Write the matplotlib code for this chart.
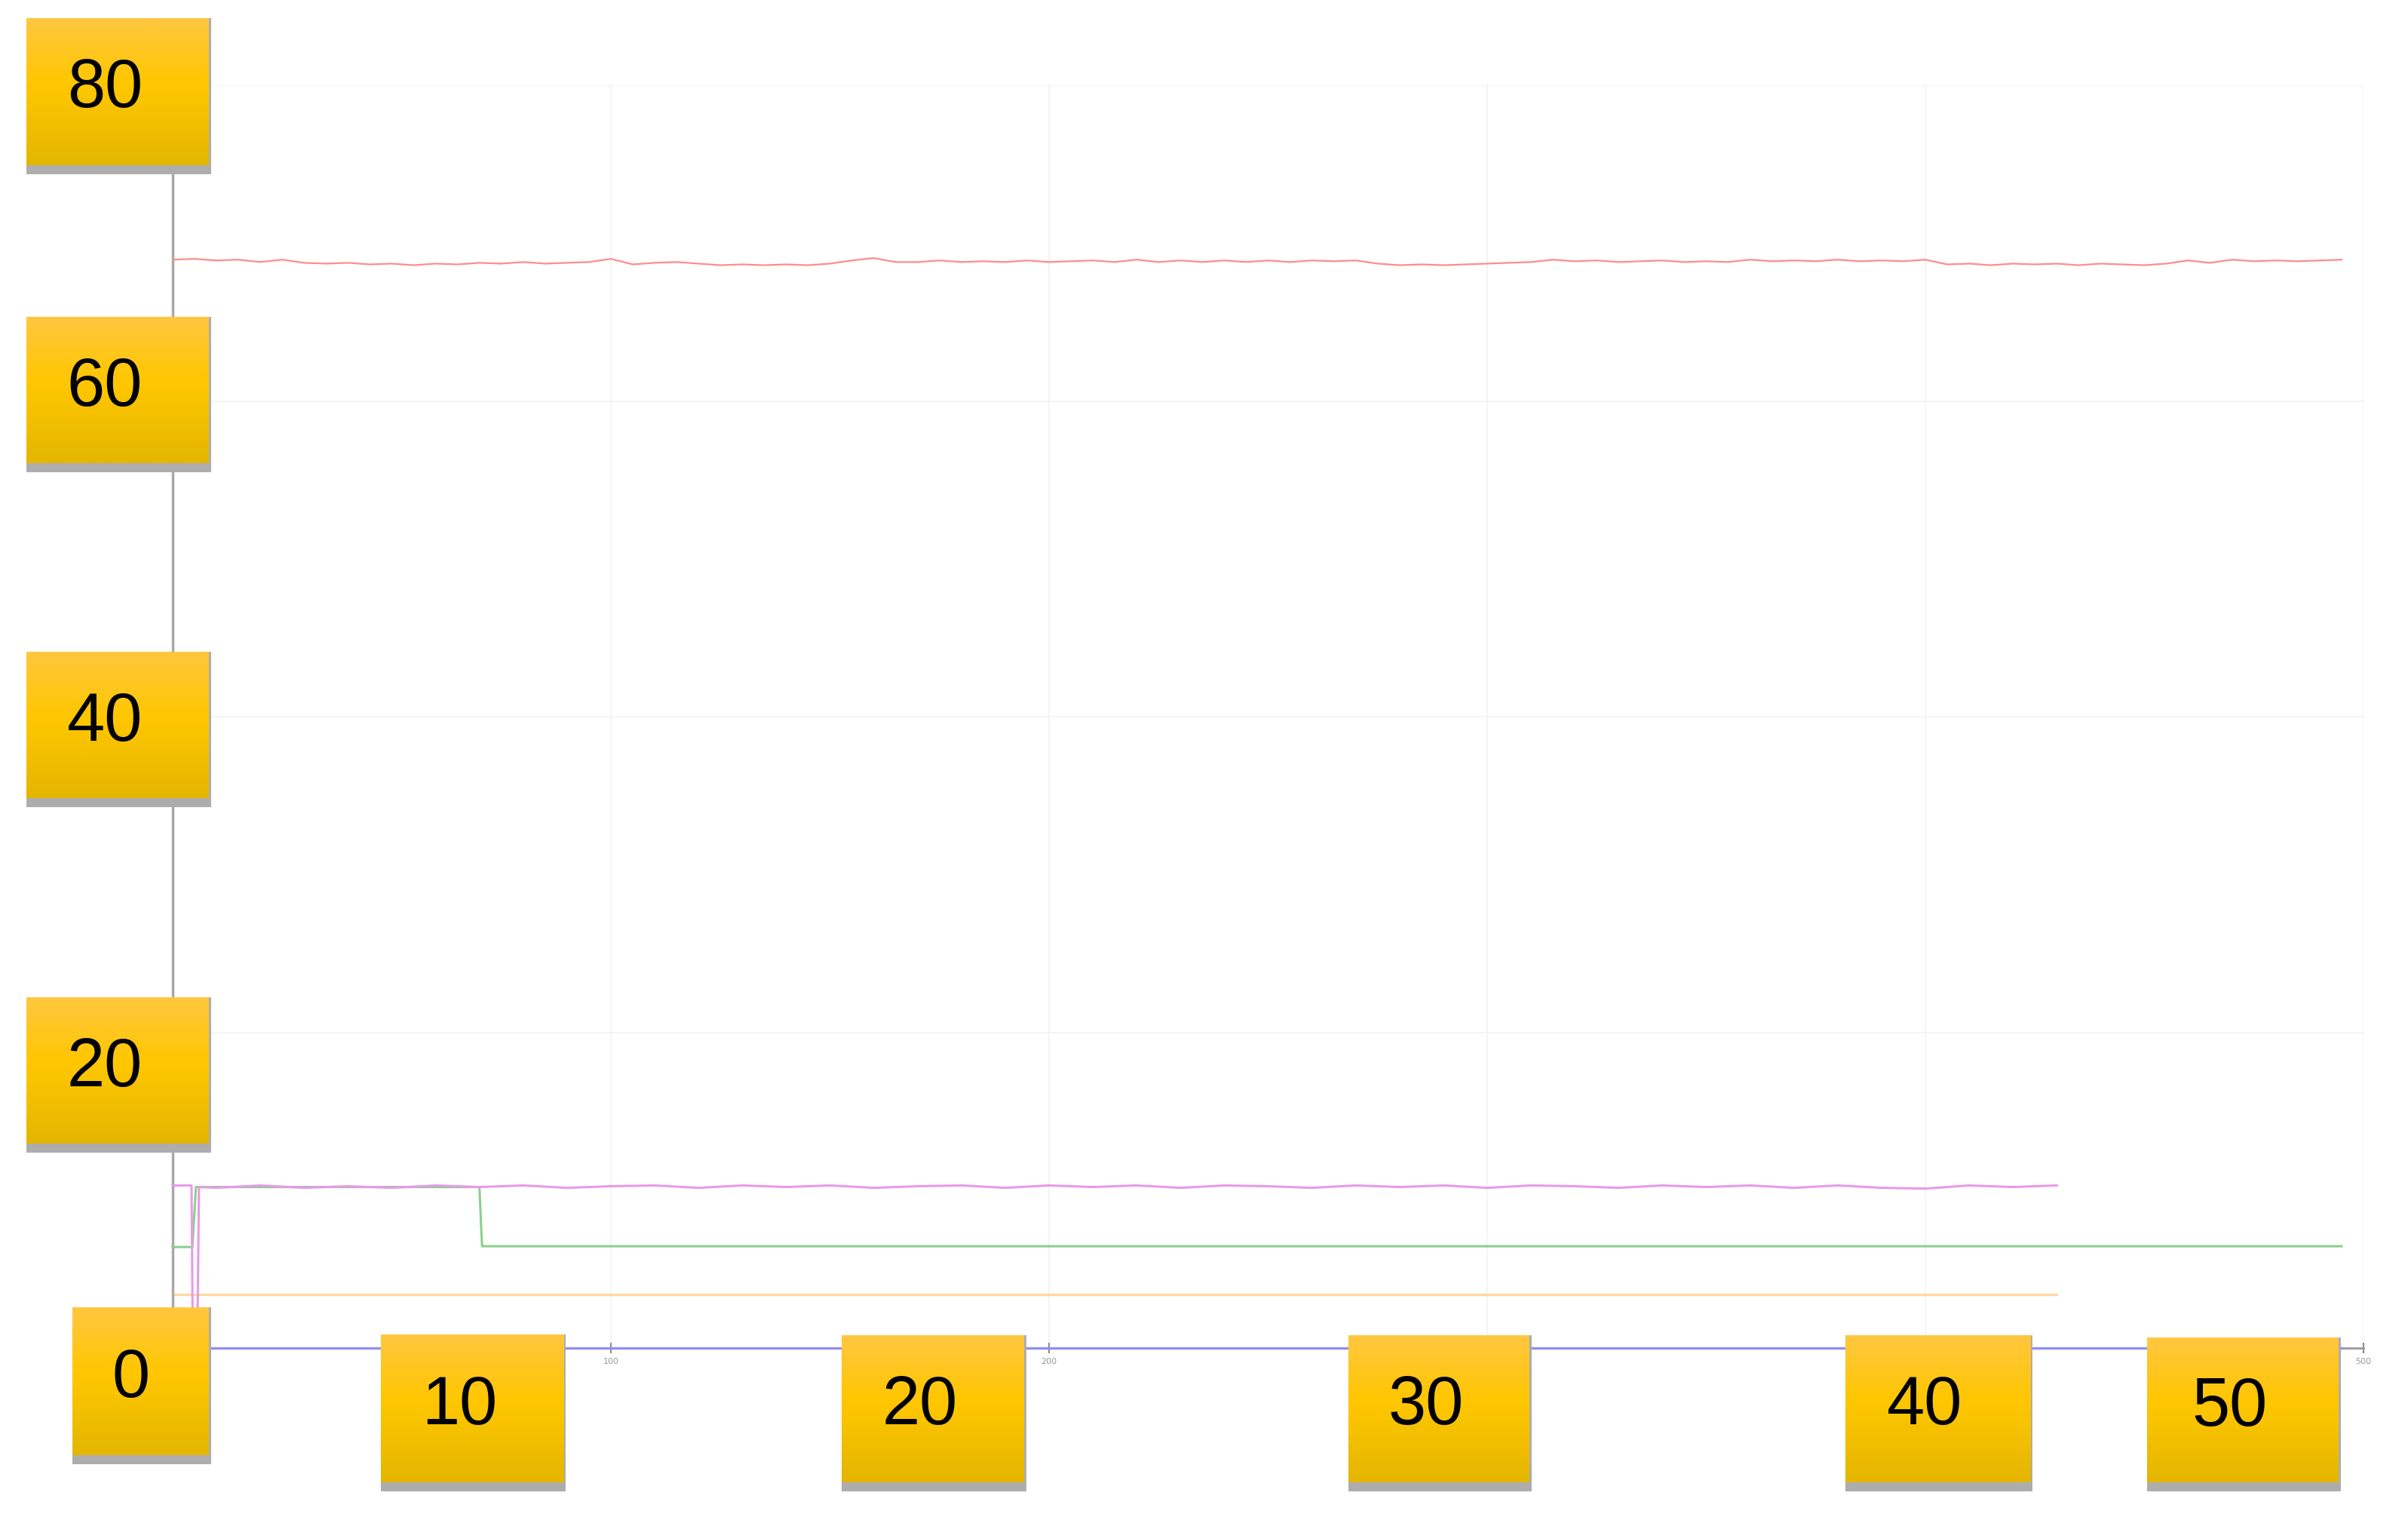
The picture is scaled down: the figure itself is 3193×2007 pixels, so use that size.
import numpy as np
import matplotlib
matplotlib.use('Agg')
import matplotlib.pyplot as plt
from matplotlib.patches import Rectangle

W, H = 3193, 2008

# red series, one value every 5 samples from 0 to 495
red_x = list(range(0, 500, 5))
red_y = [68.95, 69.0, 68.9, 68.95, 68.8, 68.95, 68.75, 68.7, 68.75, 68.65,
         68.7, 68.6, 68.7, 68.65, 68.75, 68.7, 68.8, 68.7, 68.75, 68.8,
         69.0, 68.65, 68.75, 68.8, 68.7, 68.6, 68.65, 68.6, 68.65, 68.6,
         68.7, 68.9, 69.05, 68.8, 68.8, 68.9, 68.8, 68.85, 68.8, 68.9,
         68.8, 68.85, 68.9, 68.8, 68.95, 68.8, 68.9, 68.8, 68.9, 68.8,
         68.9, 68.8, 68.9, 68.85, 68.9, 68.7, 68.6, 68.65, 68.6, 68.65,
         68.7, 68.75, 68.8, 68.95, 68.85, 68.9, 68.8, 68.85, 68.9, 68.8,
         68.85, 68.8, 68.95, 68.85, 68.9, 68.85, 68.95, 68.85, 68.9, 68.85,
         68.95, 68.65, 68.7, 68.6, 68.7, 68.65, 68.7, 68.6, 68.7, 68.65,
         68.6, 68.7, 68.9, 68.75, 68.95, 68.85, 68.9, 68.85, 68.9, 68.95]

# magenta series
mag_x = [0, 4.3, 4.6, 5.6, 6.0, 10, 20, 30, 40, 50, 60, 70, 80, 90, 100,
         110, 120, 130, 140, 150, 160, 170, 180, 190, 200, 210, 220, 230,
         240, 250, 260, 270, 280, 290, 300, 310, 320, 330, 340, 350, 360,
         370, 380, 390, 400, 410, 420, 430]
mag_y = [10.3, 10.3, 0.0, 0.0, 10.2, 10.15, 10.3, 10.15, 10.25, 10.15, 10.3,
         10.2, 10.3, 10.15, 10.25, 10.3, 10.15, 10.3, 10.2, 10.3, 10.15,
         10.25, 10.3, 10.15, 10.3, 10.2, 10.3, 10.15, 10.3, 10.25, 10.15,
         10.3, 10.2, 10.3, 10.15, 10.3, 10.25, 10.15, 10.3, 10.2, 10.3,
         10.15, 10.3, 10.15, 10.1, 10.3, 10.2, 10.3]

green_x = [0, 4.5, 5.3, 70, 70.6, 495]
green_y = [6.4, 6.4, 10.2, 10.2, 6.45, 6.45]

orange_x = [0, 430]
orange_y = [3.4, 3.4]

blue_x = [0, 495]
blue_y = [0, 0]

x_ticks = [100, 200, 300, 400, 500]
y_grid = [20, 40, 60, 80]

y_box_labels = ['80', '60', '40', '20', '0']
x_box_labels = ['10', '20', '30', '40', '50']

# box layout in pixels: left, top, right, bottom
y_boxes = [(35, 25, 277, 220), (35, 421, 277, 615), (35, 865, 277, 1059),
           (35, 1323, 277, 1517), (96, 1734, 277, 1930)]
x_boxes = [(505, 1770, 747, 1966), (1116, 1771, 1358, 1966),
           (1788, 1771, 2028, 1966), (2447, 1771, 2692, 1966),
           (2847, 1774, 3101, 1966)]

fig = plt.figure(figsize=(W / 100, H / 100), dpi=100)
fig.patch.set_facecolor('white')
ax = fig.add_axes([229 / W, (H - 1788) / H, 2905 / W, 1674 / H])
ax.set_zorder(0)
ax.set_xlim(0, 500)
ax.set_ylim(0, 80)
ax.set_facecolor('white')

for g in y_grid:
    ax.axhline(g, color='#f2f2f2', lw=1.2, zorder=0)
for t in x_ticks:
    ax.axvline(t, color='#f2f2f2', lw=1.2, zorder=0)

ax.plot(orange_x, orange_y, color='#ffd8a0', lw=2.4, clip_on=False, zorder=2)
ax.plot(green_x, green_y, color='#8ccf8c', lw=2.2, clip_on=False, zorder=3)
ax.plot(mag_x, mag_y, color='#e99ae9', lw=2.2, clip_on=False, zorder=4)
ax.plot(red_x, red_y, color='#ff8c8c', lw=1.6, clip_on=False, zorder=4)
ax.plot(blue_x, blue_y, color='#8f8ff5', lw=2.4, clip_on=False, zorder=5)

for s in ['top', 'right']:
    ax.spines[s].set_visible(False)
ax.spines['left'].set_color('#a8a8a8')
ax.spines['left'].set_linewidth(2.5)
ax.spines['bottom'].set_color('#999999')
ax.spines['bottom'].set_linewidth(2)

ax.set_yticks([])
ax.set_xticks(x_ticks)
ax.set_xticklabels([str(t) for t in x_ticks], fontsize=8, color='#999999')
ax.tick_params(axis='x', direction='inout', length=10, width=1.5,
               color='#888899', pad=4)

# yellow gradient boxes
grad = np.zeros((100, 1, 3))
top = np.array([255, 198, 64]) / 255
mid = np.array([255, 199, 0]) / 255
bot = np.array([228, 182, 0]) / 255
for i in range(100):
    f = i / 99
    if f < 0.45:
        c = top + (mid - top) * f / 0.45
    else:
        c = mid + (bot - mid) * (f - 0.45) / 0.55
    grad[i, 0] = c


def draw_box(label, box):
    x0, y0, x1, y1 = box
    sh = fig.add_axes([x0 / W, (H - y1 - 12) / H, (x1 - x0 + 3) / W,
                       (y1 - y0 + 12) / H])
    sh.set_zorder(5)
    sh.add_patch(Rectangle((0, 0), 1, 1, facecolor='#adadad', edgecolor='none'))
    sh.set_xlim(0, 1)
    sh.set_ylim(0, 1)
    sh.set_axis_off()
    bax = fig.add_axes([x0 / W, (H - y1) / H, (x1 - x0) / W, (y1 - y0) / H])
    bax.set_zorder(10)
    bax.imshow(grad, aspect='auto', extent=[0, 1, 0, 1])
    bax.set_xlim(0, 1)
    bax.set_ylim(0, 1)
    bax.set_axis_off()
    bax.text(0.43, 0.52, label, ha='center', va='center', fontsize=65,
             family='Liberation Sans', color='black')


for lab, b in zip(y_box_labels, y_boxes):
    draw_box(lab, b)
for lab, b in zip(x_box_labels, x_boxes):
    draw_box(lab, b)

fig.savefig('out.png', dpi=100)
